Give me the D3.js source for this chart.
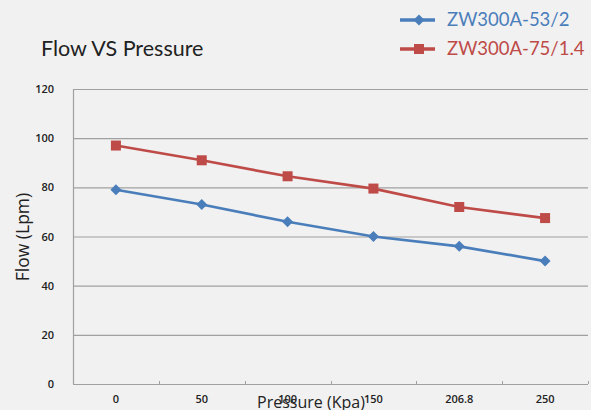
<!DOCTYPE html>
<html>
  <head>
    <meta charset="utf-8">
    <title>Flow VS Pressure</title>
    <script src="https://cdnjs.cloudflare.com/ajax/libs/d3/7.8.5/d3.min.js"></script>
    <style>
      body { margin: 0; background-color: #f1f1f1 }
      svg { display: block; font-family: "Open Sans", "Noto Sans", sans-serif }
      .lato { font-family: Lato, "Open Sans", sans-serif }
    </style>
  </head>
  <body>
    <div id="chart"></div>
    <script>
var pressures = ["0", "50", "100", "150", "206.8", "250"];
var flowA = [79, 73, 66, 60, 56, 50];       // ZW300A-53/2
var flowB = [97, 91, 84.5, 79.5, 72, 67.5]; // ZW300A-75/1.4
var seriesNames = ["ZW300A-53/2", "ZW300A-75/1.4"];
var yTicks = [0, 20, 40, 60, 80, 100, 120];

var W = 591, H = 410;
var m = {left: 73, right: 3, top: 89, bottom: 26};

var svg = d3.select("#chart").append("svg")
    .attr("width", W).attr("height", H);

var x = d3.scaleBand().domain(pressures).range([m.left, W - m.right]);
var y = d3.scaleLinear().domain([0, 120]).range([H - m.bottom, m.top]);

// gridlines
svg.append("g").selectAll("line").data(yTicks).enter().append("line")
    .attr("x1", m.left).attr("x2", W - m.right)
    .attr("y1", function(d){ return y(d) + 0.5 })
    .attr("y2", function(d){ return y(d) + 0.5 })
    .attr("stroke", "#a0a0a0").attr("stroke-width", 1.2);

// left axis line
svg.append("line")
    .attr("x1", m.left + 0.5).attr("x2", m.left + 0.5)
    .attr("y1", y(120)).attr("y2", y(0))
    .attr("stroke", "#a0a0a0").attr("stroke-width", 1.2);

// y labels
svg.append("g").selectAll("text").data(yTicks).enter().append("text")
    .attr("x", 54).attr("y", function(d){ return y(d) + 4 })
    .attr("text-anchor", "end")
    .attr("font-size", 11).attr("font-weight", 600).attr("fill", "#222")
    .text(function(d){ return d });

// x tick marks at band boundaries (pointing up)
var bounds = pressures.map(function(p){ return x(p) + x.bandwidth() });
svg.append("g").selectAll("line").data(bounds).enter().append("line")
    .attr("x1", function(d){ return Math.round(d) + 0.5 })
    .attr("x2", function(d){ return Math.round(d) + 0.5 })
    .attr("y1", y(0) - 3).attr("y2", y(0))
    .attr("stroke", "#a0a0a0");

// x labels
svg.append("g").selectAll("text").data(pressures).enter().append("text")
    .attr("x", function(d){ return x(d) + x.bandwidth() / 2 })
    .attr("y", 403)
    .attr("text-anchor", "middle")
    .attr("font-size", 11).attr("font-weight", 600).attr("fill", "#222")
    .text(function(d){ return d });

// axis titles
svg.append("text")
    .attr("x", 311).attr("y", 408).attr("text-anchor", "middle")
    .attr("font-size", 16).attr("fill", "#222")
    .text("Pressure (Kpa)");

svg.append("text")
    .attr("transform", "translate(29,237) rotate(-90)")
    .attr("text-anchor", "middle")
    .attr("font-size", 17.5).attr("fill", "#222")
    .text("Flow (Lpm)");

// title
svg.append("text").attr("class", "lato")
    .attr("x", 41).attr("y", 56)
    .attr("font-size", 21.5).attr("fill", "#222")
    .text("Flow VS Pressure");

var colors = ["#4a7ebb", "#be4b48"];
var series = [flowA, flowB];
var line = d3.line()
    .x(function(d, i){ return x(pressures[i]) + x.bandwidth() / 2 })
    .y(function(d){ return y(d) });

function marker(g, i, cx, cy) {
    if (i === 0) {
        g.append("path")
            .attr("d", "M" + cx + "," + (cy - 5.5) + "L" + (cx + 5.5) + "," + cy +
                  "L" + cx + "," + (cy + 5.5) + "L" + (cx - 5.5) + "," + cy + "Z")
            .attr("fill", colors[i]);
    } else {
        g.append("rect")
            .attr("x", cx - 5).attr("y", cy - 5)
            .attr("width", 10).attr("height", 10)
            .attr("fill", colors[i]);
    }
}

series.forEach(function(s, i){
    var g = svg.append("g");
    g.append("path").datum(s)
        .attr("d", line)
        .attr("fill", "none")
        .attr("stroke", colors[i]).attr("stroke-width", 2.7);
    s.forEach(function(v, j){
        marker(g, i, x(pressures[j]) + x.bandwidth() / 2, y(v));
    });
});

// legend
seriesNames.forEach(function(name, i){
    var ly = 20 + i * 29;
    var g = svg.append("g");
    g.append("line")
        .attr("x1", 400).attr("x2", 435).attr("y1", ly).attr("y2", ly)
        .attr("stroke", colors[i]).attr("stroke-width", 3.5);
    marker(g, i, 419, ly);
    g.append("text").attr("class", "lato")
        .attr("x", 447).attr("y", ly + 6)
        .attr("font-size", 18.5).attr("fill", colors[i])
        .text(name);
});
    </script>
  </body>
</html>
